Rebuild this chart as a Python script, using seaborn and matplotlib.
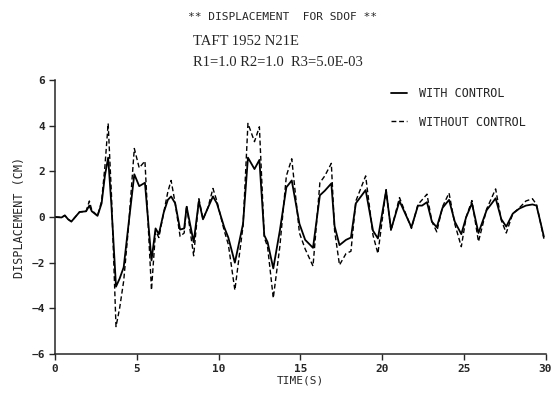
import numpy as np
import pandas as pd
import matplotlib
matplotlib.use("Agg")
import matplotlib.pyplot as plt
import seaborn as sns

time_s = [0.0, 0.4, 0.6, 0.8, 1.0, 1.5, 1.9, 2.1, 2.25, 2.6, 2.85, 3.05, 3.25, 3.45,
          3.73, 3.95, 4.2, 4.5, 4.85, 5.15, 5.5, 5.9, 6.15, 6.35, 6.65, 6.9, 7.1, 7.35,
          7.65, 7.9, 8.05, 8.48, 8.8, 9.05, 9.35, 9.66, 9.9, 10.35, 10.6, 11.0, 11.5,
          11.8, 12.2, 12.5, 12.8, 13.0, 13.35, 13.75, 14.15, 14.48, 14.95, 15.3, 15.78,
          16.2, 16.5, 16.9, 17.1, 17.4, 17.8, 18.1, 18.4, 19.0, 19.45, 19.75, 20.25,
          20.55, 21.07, 21.8, 22.2, 22.45, 22.75, 23.05, 23.35, 23.7, 24.1, 24.45, 24.85,
          25.15, 25.5, 25.9, 26.4, 26.95, 27.3, 27.6, 28.0, 28.4, 28.8, 29.2, 29.45,
          29.65, 29.9]
with_control = [0.0, -0.02, 0.07, -0.1, -0.2, 0.22, 0.25, 0.5, 0.25, 0.05, 0.6, 1.8, 2.6, 0.5,
                -3.05, -2.7, -2.2, -0.3, 1.87, 1.35, 1.5, -1.9, -0.5, -0.75, 0.2, 0.75, 0.9, 0.6,
                -0.55, -0.5, 0.45, -1.1, 0.7, -0.1, 0.4, 0.9, 0.6, -0.45, -0.9, -2.0, -0.3,
                2.6, 2.1, 2.5, -0.8, -1.1, -2.25, -0.6, 1.3, 1.6, -0.3, -1.0, -1.35,
                0.95, 1.15, 1.47, -0.4, -1.23, -1.0, -0.9, 0.6, 1.18, -0.6, -0.94, 1.15,
                -0.55, 0.7, -0.45, 0.5, 0.5, 0.65, -0.2, -0.45, 0.4, 0.75, -0.2, -0.75,
                0.0, 0.6, -0.7, 0.3, 0.82, -0.1, -0.42, 0.15, 0.37, 0.5, 0.55, 0.5,
                -0.1, -0.86]
without_control = [0.0, -0.02, 0.07, -0.1, -0.2, 0.22, 0.25, 0.7, 0.3, 0.05, 0.7, 2.2, 4.1, 1.0,
                   -4.8, -4.0, -2.8, -0.4, 3.0, 2.15, 2.45, -3.2, -0.6, -0.9, 0.2, 1.1, 1.6, 0.6,
                   -0.85, -0.7, 0.5, -1.7, 0.8, -0.1, 0.4, 1.25, 0.7, -0.6, -1.2, -3.2, -0.4,
                   4.1, 3.3, 3.95, -0.9, -1.3, -3.55, -1.3, 1.8, 2.55, -0.7, -1.4, -2.15,
                   1.5, 1.8, 2.35, -0.6, -2.1, -1.6, -1.5, 0.7, 1.8, -0.8, -1.6, 1.2,
                   -0.6, 0.85, -0.5, 0.55, 0.75, 1.0, -0.2, -0.65, 0.45, 1.05, -0.3, -1.3,
                   0.0, 0.72, -1.08, 0.35, 1.23, -0.15, -0.7, 0.15, 0.4, 0.7, 0.8, 0.55,
                   -0.1, -0.95]

x_ticks = [0, 5, 10, 15, 20, 25, 30]
y_ticks = [-6, -4, -2, 0, 2, 4, 6]

sns.set_style("ticks")
plt.rcParams['font.family'] = ['DejaVu Sans Mono']

fig = plt.figure(figsize=(5.58, 3.96), dpi=100)
ax = fig.add_axes([0.0986, 0.106, 0.879, 0.692])

df = pd.DataFrame({"t": time_s, "with": with_control, "without": without_control})
sns.lineplot(data=df, x="t", y="with", ax=ax, color="black", lw=1.3,
             label="WITH CONTROL", estimator=None, sort=False)
sns.lineplot(data=df, x="t", y="without", ax=ax, color="black", lw=1.0,
             linestyle=(0, (3.5, 2)), label="WITHOUT CONTROL", estimator=None, sort=False)

ax.set_xlim(0, 30)
ax.set_ylim(-6, 6)
ax.set_xticks(x_ticks)
ax.set_yticks(y_ticks)
ax.tick_params(direction="out", length=4, width=1, labelsize=8, pad=3)
for lab in ax.get_xticklabels() + ax.get_yticklabels():
    lab.set_fontweight("bold")
sns.despine(ax=ax)
for s in ["left", "bottom"]:
    ax.spines[s].set_linewidth(1.1)
ax.set_xlabel("TIME(S)", fontsize=8, labelpad=1)
ax.set_ylabel("DISPLACEMENT (CM)", fontsize=8.5, labelpad=4)

leg = ax.legend(loc="upper left", frameon=False, fontsize=8.5, handlelength=1.35,
                labelspacing=1.35, bbox_to_anchor=(0.692, 0.793),
                bbox_transform=fig.transFigure, borderaxespad=0, handletextpad=1.0)
for h in leg.get_lines():
    h.set_color("black")

fig.text(0.506, 0.957, "** DISPLACEMENT  FOR SDOF **", ha="center", va="center", fontsize=8.1)
fig.text(0.345, 0.894, "TAFT 1952 N21E", ha="left", va="center", fontsize=10.5,
         family="Liberation Serif")
fig.text(0.345, 0.843, "R1=1.0 R2=1.0  R3=5.0E-03", ha="left", va="center", fontsize=10.5,
         family="Liberation Serif")

fig.savefig("out.png", dpi=100)
